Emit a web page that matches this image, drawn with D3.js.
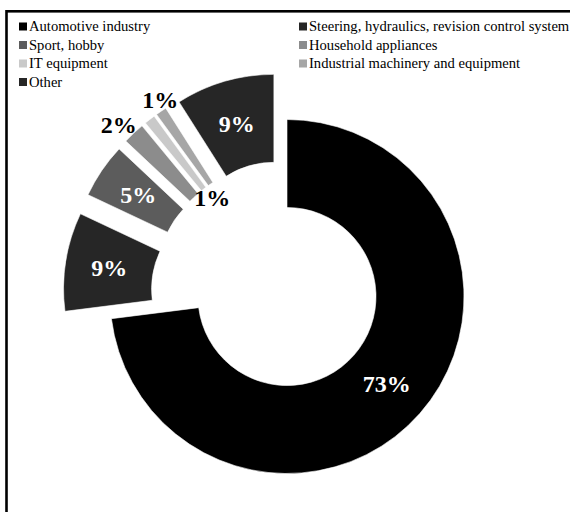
<!DOCTYPE html>
<html>
<head>
<meta charset="utf-8">
<script src="https://cdn.jsdelivr.net/npm/d3@7/dist/d3.min.js"></script>
<style>
  html, body { margin: 0; padding: 0; background: #fff; }
  svg { display: block; }
</style>
</head>
<body>
<svg id="chart" width="570" height="512"></svg>
<script>
// Market share by application field
const categories = [
  "Automotive industry",
  "Steering, hydraulics, revision control system",
  "Sport, hobby",
  "Household appliances",
  "IT equipment",
  "Industrial machinery and equipment",
  "Other"
];
const shares = [73, 9, 5, 2, 1, 1, 9];
const colors = ["#000000", "#262626", "#5c5c5c", "#8c8c8c", "#c9c9c9", "#a6a6a6", "#262626"];

// Slices pulled out from the ring (everything except the main segment)
const exploded = [false, true, true, true, true, true, true];

// Label styling: white inside dark slices, black for the thin ones placed beside them
const labelColors = ["#fff", "#fff", "#fff", "#000", "#000", "#000", "#fff"];
// Thin slices: label radius from the ring centre and angular nudge (degrees)
const labelOverride = {
  3: { r: 240, nudge: -1.3 },
  4: { r: 124, nudge: 0.7 },
  5: { r: 234, nudge: 1.4 }
};

const FONT = "'Liberation Serif', 'Times New Roman', Times, 'DejaVu Serif', serif";

const svg = d3.select("#chart").attr("font-family", FONT);

// frame
svg.append("rect")
  .attr("x", 6.5).attr("y", 11.3)
  .attr("width", 620).attr("height", 560)
  .attr("fill", "none")
  .attr("stroke", "#000")
  .attr("stroke-width", 2.6);

// legend: two columns, filled row by row
const legend = svg.append("g");
const colX = [19, 299];
const rowY0 = 31, rowStep = 18.5, box = 8;
categories.forEach((c, i) => {
  const col = i % 2, row = Math.floor(i / 2);
  const g = legend.append("g")
    .attr("transform", `translate(${colX[col]},${rowY0 + row * rowStep})`);
  g.append("rect")
    .attr("x", 0).attr("y", -box - 0.5)
    .attr("width", box).attr("height", box)
    .attr("fill", colors[i]);
  g.append("text")
    .attr("x", box + 2).attr("y", 0)
    .attr("font-family", FONT)
    .attr("font-size", 14.6)
    .attr("fill", "#000")
    .text(c);
});

// doughnut
const cx = 287, cy = 296.5;
const outerR = 177, innerR = 89, explode = 47;

const pie = d3.pie().sort(null).value(d => d).startAngle(0).endAngle(2 * Math.PI);
const arcs = pie(shares);
const arc = d3.arc().innerRadius(innerR).outerRadius(outerR);

const ring = svg.append("g").attr("transform", `translate(${cx},${cy})`);

const offsetOf = (d, i) => {
  if (!exploded[i]) return [0, 0];
  const mid = (d.startAngle + d.endAngle) / 2;
  return [explode * Math.sin(mid), -explode * Math.cos(mid)];
};

ring.selectAll("path.slice")
  .data(arcs)
  .join("path")
  .attr("class", "slice")
  .attr("transform", (d, i) => `translate(${offsetOf(d, i)})`)
  .attr("d", arc)
  .attr("fill", (d, i) => colors[i])
  .attr("stroke", "#fff")
  .attr("stroke-width", 0.6);

// value labels
ring.selectAll("text.value")
  .data(arcs)
  .join("text")
  .attr("class", "value")
  .attr("transform", (d, i) => {
    const mid = (d.startAngle + d.endAngle) / 2;
    let x, y;
    if (labelOverride[i]) {
      const a = mid + labelOverride[i].nudge * Math.PI / 180;
      x = labelOverride[i].r * Math.sin(a);
      y = -labelOverride[i].r * Math.cos(a);
    } else {
      const [ox, oy] = offsetOf(d, i);
      const c = arc.centroid(d);
      x = c[0] + ox; y = c[1] + oy;
    }
    return `translate(${x},${y})`;
  })
  .attr("text-anchor", "middle")
  .attr("dominant-baseline", "central")
  .attr("font-family", FONT)
  .attr("font-size", 24)
  .attr("font-weight", "bold")
  .attr("fill", (d, i) => labelColors[i])
  .text(d => d.data + "%");
</script>
</body>
</html>
